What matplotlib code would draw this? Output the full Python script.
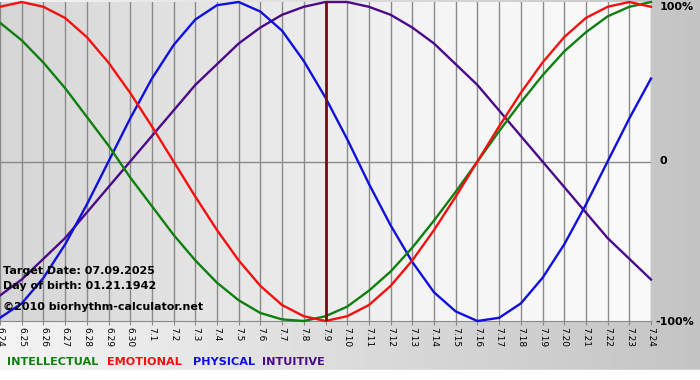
#=======================#
# Libraries importation #
#=======================#

import matplotlib
matplotlib.use("Agg")
import matplotlib.pyplot as plt
import numpy as np

#======#
# Data #
#======#

days = ["6.24", "6.25", "6.26", "6.27", "6.28", "6.29", "6.30",
        "7.1", "7.2", "7.3", "7.4", "7.5", "7.6", "7.7", "7.8", "7.9",
        "7.10", "7.11", "7.12", "7.13", "7.14", "7.15", "7.16", "7.17",
        "7.18", "7.19", "7.20", "7.21", "7.22", "7.23", "7.24"]

physical = [-0.98, -0.89, -0.73, -0.52, -0.27, 0.00, 0.27, 0.52, 0.73, 0.89,
            0.98, 1.00, 0.94, 0.82, 0.63, 0.40, 0.14, -0.14, -0.40, -0.63,
            -0.82, -0.94, -1.00, -0.98, -0.89, -0.73, -0.52, -0.27, 0.00,
            0.27, 0.52]

emotional = [0.97, 1.00, 0.97, 0.90, 0.78, 0.62, 0.43, 0.22, 0.00, -0.22,
             -0.43, -0.62, -0.78, -0.90, -0.97, -1.00, -0.97, -0.90, -0.78,
             -0.62, -0.43, -0.22, 0.00, 0.22, 0.43, 0.62, 0.78, 0.90, 0.97,
             1.00, 0.97]

intellectual = [0.87, 0.76, 0.62, 0.46, 0.28, 0.10, -0.10, -0.28, -0.46,
                -0.62, -0.76, -0.87, -0.95, -0.99, -1.00, -0.97, -0.91,
                -0.81, -0.69, -0.54, -0.37, -0.19, 0.00, 0.19, 0.37, 0.54,
                0.69, 0.81, 0.91, 0.97, 1.00]

intuitive = [-0.84, -0.74, -0.61, -0.48, -0.32, -0.16, 0.00, 0.16, 0.32,
             0.48, 0.61, 0.74, 0.84, 0.92, 0.97, 1.00, 1.00, 0.97, 0.92,
             0.84, 0.74, 0.61, 0.48, 0.32, 0.16, 0.00, -0.16, -0.32, -0.48,
             -0.61, -0.74]

target_day = "7.9"

#==================#
# Global variables #
#==================#

GREEN = "#0f7f0f"
RED = "#f41010"
BLUE = "#1010dd"
PURPLE = "#4a0a8a"
GRID = "#8a8a8a"

#========#
# Figure #
#========#

fig = plt.figure(figsize=(7, 3.8), dpi=100)

# outer background (gray gradient)
bg = fig.add_axes([0, 0, 1, 1])
grad = np.linspace(0, 1, 256).reshape(1, -1)
bg.imshow(grad, aspect="auto", cmap=matplotlib.colors.LinearSegmentedColormap.from_list(
    "outer", ["#f4f4f4", "#c4c4c4"]), extent=[0, 1, 0, 1])
bg.axhspan(0, 10 / 380, color="white")
bg.set_xlim(0, 1)
bg.set_ylim(0, 1)
bg.axis("off")

# plot area
ax = fig.add_axes([0, 1 - 321 / 380, 651 / 700, 319 / 380])
x = np.arange(len(days))
ax.set_xlim(0, len(days) - 1)
ax.set_ylim(-1, 1)
ax.imshow(grad, aspect="auto", zorder=0, cmap=matplotlib.colors.LinearSegmentedColormap.from_list(
    "inner", [(0, "#d6d6d6"), (0.7, "#f6f6f6"), (1, "#fafafa")]),
    extent=[0, len(days) - 1, -1, 1])

for xi in x:
    ax.axvline(xi, color=GRID, linewidth=1, zorder=1)
ax.axhline(0, color=GRID, linewidth=1, zorder=1)

ax.axvline(days.index(target_day), color="#701010", linewidth=2, zorder=4)

ax.plot(x, intuitive, color=PURPLE, linewidth=1.7, zorder=3, clip_on=False)
ax.plot(x, physical, color=BLUE, linewidth=1.7, zorder=3, clip_on=False)
ax.plot(x, intellectual, color=GREEN, linewidth=1.7, zorder=3, clip_on=False)
ax.plot(x, emotional, color=RED, linewidth=1.7, zorder=3, clip_on=False)

for s in ["top", "left", "right"]:
    ax.spines[s].set_visible(False)
ax.spines["bottom"].set_color(GRID)

ax.set_xticks(x)
ax.set_xticklabels(days, rotation=270, fontsize=6.5)
ax.tick_params(axis="x", length=3, color=GRID, pad=1.5)
ax.set_yticks([])

# right labels
fig.text(660 / 700, 1 - 7 / 380, "100%", fontsize=8, fontweight="bold", va="center")
fig.text(660 / 700, 1 - 161 / 380, "0", fontsize=8, fontweight="bold", va="center")
fig.text(655 / 700, 1 - 322 / 380, "-100%", fontsize=8, fontweight="bold", va="center")

# info text
fig.text(3 / 700, 1 - 271 / 380, "Target Date: 07.09.2025", fontsize=8, fontweight="bold", va="center")
fig.text(3 / 700, 1 - 286 / 380, "Day of birth: 01.21.1942", fontsize=8, fontweight="bold", va="center")
fig.text(3 / 700, 1 - 307 / 380, "©2010 biorhythm-calculator.net", fontsize=8, fontweight="bold", va="center")

# legend
legend = [("INTELLECTUAL", GREEN, 7), ("EMOTIONAL", RED, 107),
          ("PHYSICAL", BLUE, 193), ("INTUITIVE", PURPLE, 262)]
for label, color, px in legend:
    fig.text(px / 700, 1 - 362 / 380, label, color=color, fontsize=8.1,
             fontweight="bold", va="center")

fig.savefig("out.png", dpi=100)
